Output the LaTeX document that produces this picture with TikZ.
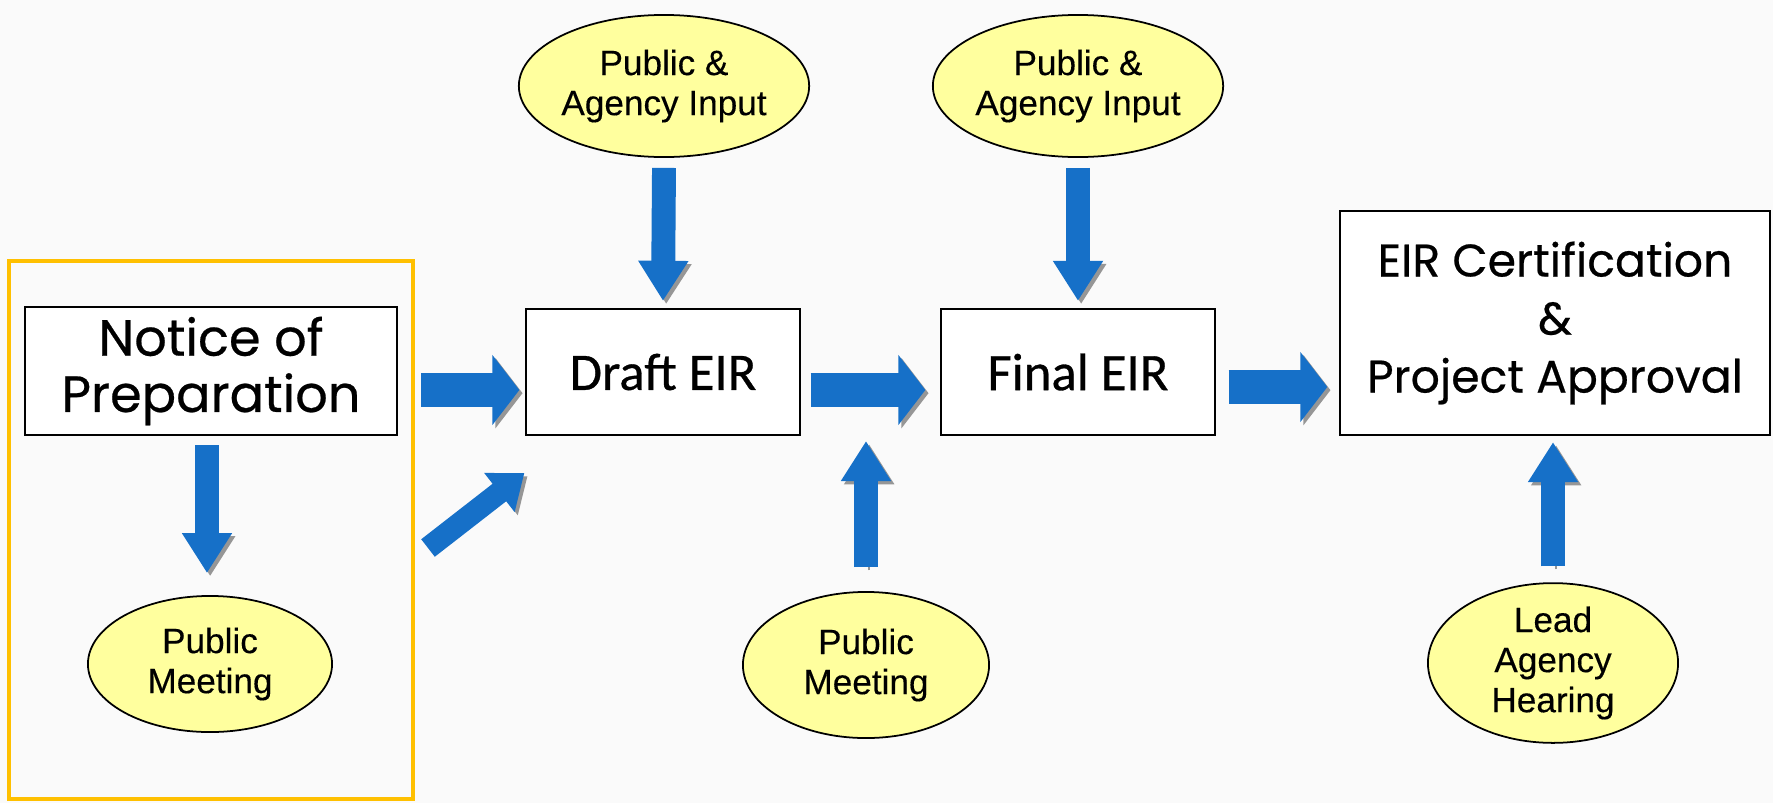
\documentclass[tikz,border=0pt]{standalone}
\usepackage{fontspec}
\setmainfont{Liberation Sans}[FakeBold=0.3]
\newfontfamily\geofont{Poppins}[FakeBold=0.5]
\newfontfamily\humfont{Carlito}[FakeBold=0.6]
\usetikzlibrary{shapes.geometric,arrows.meta}

\definecolor{flowblue}{RGB}{22,112,200}
\definecolor{shadowgray}{RGB}{150,150,150}
\definecolor{inputyellow}{RGB}{255,255,158}
\definecolor{framegold}{RGB}{255,192,0}
\definecolor{bggray}{RGB}{250,250,250}

\begin{document}
\begin{tikzpicture}
	[x=0.01cm, y=-0.01cm,
	stage/.style={rectangle,draw,fill=white,line width=0.6pt,align=center,inner sep=0pt},
	input/.style={ellipse,draw,fill=inputyellow,line width=0.5pt,align=center,inner sep=0pt,
		font=\fontsize{10}{11.4}\selectfont},
	flowh/.style={draw=flowblue,line width=9.7pt,-{Triangle[width=19.6pt,length=7.7pt]},
		preaction={draw=shadowgray,transform canvas={shift={(0.9pt,-0.9pt)}}}},
	flowv/.style={draw=flowblue,line width=6.8pt,-{Triangle[width=13.5pt,length=11.4pt]},
		preaction={draw=shadowgray,transform canvas={shift={(0.9pt,-0.9pt)}}}},
	flowd/.style={draw=flowblue,line width=6.3pt,-{Triangle[width=13.5pt,length=9pt]},
		preaction={draw=shadowgray,transform canvas={shift={(0.9pt,-0.9pt)}}}}]
	\useasboundingbox (0,0) rectangle (1773,803);
	\fill[bggray] (0,0) rectangle (1773,803);
	% notice of preparation stage
	\node (nopframe) [draw=framegold,line width=1.2pt,minimum width=4.04cm,minimum height=5.38cm] at (211,530) {};
	\node (notice) [stage,minimum width=3.72cm,minimum height=1.28cm,
		font=\geofont\fontsize{14.5}{16}\selectfont] at (211,371) {Notice of\\Preparation};
	\node (pm1) [input,minimum width=2.44cm,minimum height=1.36cm] at (210,664) {Public\\Meeting};
	% EIR stages
	\node (draft) [stage,minimum width=2.73cm,minimum height=1.26cm,
		font=\humfont\fontsize{15}{18}\selectfont] at (663,372) {Draft EIR};
	\node (final) [stage,minimum width=2.73cm,minimum height=1.26cm,
		font=\humfont\fontsize{15}{18}\selectfont] at (1078,372) {Final EIR};
	\node (cert) [stage,minimum width=4.29cm,minimum height=2.24cm,
		font=\geofont\fontsize{13}{16.5}\selectfont] at (1555,323) {EIR Certification\\\&\\Project Approval};
	\node (input1) [input,minimum width=2.46cm,minimum height=1.42cm] at (664,86) {Public \&\\Agency Input};
	\node (input2) [input,minimum width=2.46cm,minimum height=1.42cm] at (1078,86) {Public \&\\Agency Input};
	\node (pm2) [input,minimum width=2.46cm,minimum height=1.46cm] at (866,665) {Public\\Meeting};
	\node (lah) [input,minimum width=2.50cm,minimum height=1.52cm] at (1553,663) {Lead\\Agency\\Hearing};
	\coordinate (diagtail) at (428,548);
	\coordinate (meetjoin) at (866,441);
	% flow arrows
	\draw[flowh] ([shift={(6,-140)}]nopframe.east) -- ([shift={(-6,18)}]draft.west);
	\draw[flowd] (diagtail) -- ([shift={(-1,37)}]draft.south west);
	\draw[flowh] ([shift={(10,18)}]draft.east) -- ([shift={(-15,18)}]final.west);
	\draw[flowh] ([shift={(13,15)}]final.east) -- ([shift={(-12,64)}]cert.west);
	\draw[flowv] ([shift={(-4,9)}]notice.south) -- ([shift={(-3,-22)}]pm1.north);
	\draw[flowv] ([shift={(0,10)}]input1.south) -- ([shift={(0,-7)}]draft.north);
	\draw[flowv] ([shift={(0,10)}]input2.south) -- ([shift={(0,-7)}]final.north);
	\draw[flowv] ([shift={(0,-24)}]pm2.north) -- (meetjoin);
	\draw[flowv] ([shift={(0,-16)}]lah.north) -- ([shift={(-2,6)}]cert.south);
\end{tikzpicture}
\end{document}
